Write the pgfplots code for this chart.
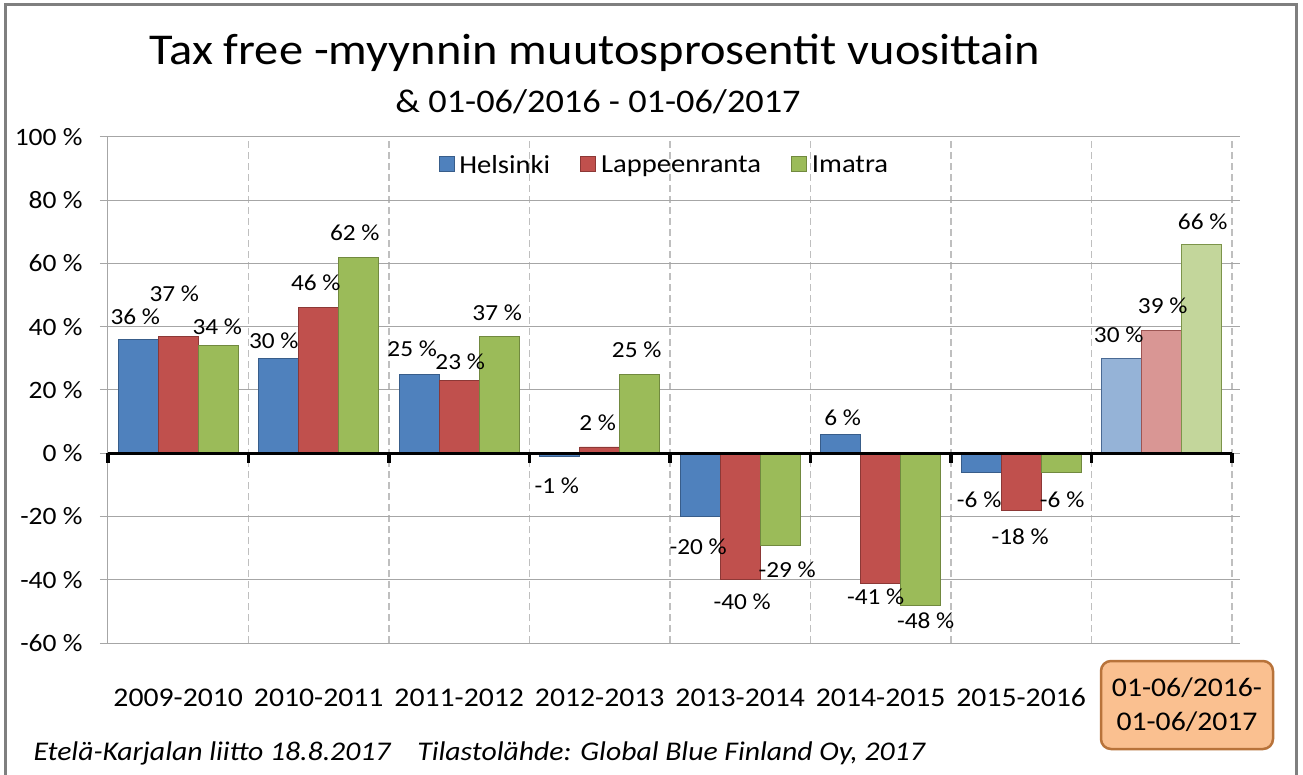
\documentclass[border=0pt]{standalone}
\usepackage{pgfplots}
\usepackage{pgfplotstable}
\pgfplotsset{compat=1.18}
\usepackage{fontspec}
\setmainfont{Carlito}[FakeStretch=1.1]
\definecolor{hblue}{HTML}{4F81BD}
\definecolor{hblueD}{HTML}{385D8A}
\definecolor{lred}{HTML}{C0504D}
\definecolor{lredD}{HTML}{8C3836}
\definecolor{igreen}{HTML}{9BBB59}
\definecolor{igreenD}{HTML}{71893F}
\definecolor{hblueL}{HTML}{95B3D7}
\definecolor{hblueLD}{HTML}{4A6A94}
\definecolor{lredL}{HTML}{D99694}
\definecolor{lredLD}{HTML}{9C5553}
\definecolor{igreenL}{HTML}{C3D69B}
\definecolor{igreenLD}{HTML}{7C944A}
\definecolor{gridgray}{HTML}{A6A6A6}
\definecolor{dashgray}{HTML}{BFBFBF}
\definecolor{framegray}{HTML}{7F7F7F}
\definecolor{boxfill}{HTML}{FAC090}
\definecolor{boxdraw}{HTML}{B8733A}
\pgfplotsset{sqlegend/.style={legend image code/.code={\draw[##1] (0pt,-7pt) rectangle (15pt,8pt);}}}
\pgfplotsset{lab/.style={
  visualization depends on={\thisrow{dx} \as \labdx},
  visualization depends on={\thisrow{dy} \as \labdy},
  nodes near coords style={font=\fontsize{23}{23}\selectfont, text=black,
     inner sep=0pt, anchor=center, xshift=\labdx pt, yshift=\labdy pt}}}
% x = category, y = value, dx/dy = label offset (pt) from the bar end
\pgfplotstableread{
x y dx dy
0 36 -3 23
1 30 -5 18
2 25 -7 25
3 -1 -3 -29
4 -20 -2 -30
5 6 2 17
6 -6 -2 -28
7 30 -3 24
}\helsinki
\pgfplotstableread{
x y dx dy
0 37 -4 42
1 46 -3 25
2 23 1 19
3 2 -2 24
4 -40 2 -22
5 -41 -5 -14
6 -18 -1 -27
7 39 1 24
}\lappeenranta
\pgfplotstableread{
x y dx dy
0 34 -1 19
1 62 -4 24
2 37 -2 23
3 25 -3 24
4 -29 7 -25
5 -48 5 -16
6 -6 1 -28
7 66 1 23
}\imatra
\begin{document}
\begin{tikzpicture}[x=1pt,y=1pt]
\useasboundingbox (0,0) rectangle (1303,774);
\fill[white] (0,0) rectangle (1303,774);
\draw[framegray, line width=3pt] (5,-10) -- (5,769) -- (1296,769) -- (1296,-10);
\node[font=\fontsize{44}{44}\selectfont, anchor=base] at (595,709) {Tax free -myynnin muutosprosentit vuosittain};
\node[font=\fontsize{33}{33}\selectfont, anchor=base] at (598,661) {\& 01-06/2016 - 01-06/2017};
\begin{axis}[
  at={(108pt,131pt)}, anchor=south west, scale only axis,
  width=1124pt, height=506pt,
  ymin=-60, ymax=100, ytick={-60,-40,...,100},
  xmin=-0.5, xmax=7.5, xtick={0,...,7},
  xticklabels={2009-2010,2010-2011,2011-2012,2012-2013,2013-2014,2014-2015,2015-2016,{}},
  ybar, bar width=40pt,
  axis line style={draw=none},
  ymajorgrids, grid style={draw=gridgray, line width=1pt},
  minor xtick={0.5,1.5,...,7.5}, xminorgrids,
  minor grid style={draw=dashgray, line width=1.3pt, dash pattern=on 7pt off 4pt},
  xtick style={draw=none}, minor tick style={draw=none}, minor tick length=0pt,
  ytick style={draw=gridgray, line width=1pt},
  tick align=outside, major tick length=8pt,
  /pgf/number format/assume math mode=true,
  yticklabel={\pgfmathprintnumber{\tick}~\%},
  yticklabel style={font=\fontsize{25}{25}\selectfont, text=black, xshift=-14pt},
  xticklabel style={font=\fontsize{27}{27}\selectfont, anchor=base, yshift=-55pt, text=black},
  nodes near coords={\pgfmathprintnumber{\pgfplotspointmeta}~\%},
  legend style={at={(0.495,0.945)}, anchor=center, draw=none, fill=none,
    legend columns=3, font=\fontsize{26}{26}\selectfont,
    /tikz/every even column/.append style={column sep=28pt}},
  clip=false,
]
\addplot[bar shift=-40pt, fill=hblue, draw=hblueD, line width=0.8pt, sqlegend, lab,
  restrict x to domain=0:6] table[x=x,y=y] {\helsinki};
\addlegendentry{\hspace{3pt}Helsinki}
\addplot[bar shift=0pt, fill=lred, draw=lredD, line width=0.8pt, sqlegend, lab,
  restrict x to domain=0:6] table[x=x,y=y] {\lappeenranta};
\addlegendentry{\hspace{3pt}Lappeenranta}
\addplot[bar shift=40pt, fill=igreen, draw=igreenD, line width=0.8pt, sqlegend, lab,
  restrict x to domain=0:6] table[x=x,y=y] {\imatra};
\addlegendentry{\hspace{3pt}Imatra}
\addplot[forget plot, bar shift=-40pt, fill=hblueL, draw=hblueLD, line width=0.8pt, lab,
  restrict x to domain=6.5:7.5] table[x=x,y=y] {\helsinki};
\addplot[forget plot, bar shift=0pt, fill=lredL, draw=lredLD, line width=0.8pt, lab,
  restrict x to domain=6.5:7.5] table[x=x,y=y] {\lappeenranta};
\addplot[forget plot, bar shift=40pt, fill=igreenL, draw=igreenLD, line width=0.8pt, lab,
  restrict x to domain=6.5:7.5] table[x=x,y=y] {\imatra};
\draw[gridgray, line width=1pt] (rel axis cs:0,0) -- (rel axis cs:0,1);
\draw[black, line width=3pt] (axis cs:-0.5,0) -- (axis cs:7.5,0);
\pgfplotsinvokeforeach{-0.5,0.5,1.5,2.5,3.5,4.5,5.5,6.5,7.5}{
  \draw[black, line width=3.5pt] (axis cs:#1,0) -- ([yshift=-10pt]axis cs:#1,0);
}
\end{axis}
\node[draw=boxdraw, fill=boxfill, line width=2.5pt, rounded corners=10pt,
  minimum width=172pt, minimum height=88pt, align=center,
  font=\fontsize{27}{34}\selectfont] at (1187,69) {01-06/2016-\\01-06/2017};
\node[font=\fontsize{27}{27}\selectfont\itshape, anchor=base west] at (30,14)
  {Etelä-Karjalan liitto 18.8.2017\hspace{0.75em} Tilastolähde: Global Blue Finland Oy, 2017};
\end{tikzpicture}
\end{document}
